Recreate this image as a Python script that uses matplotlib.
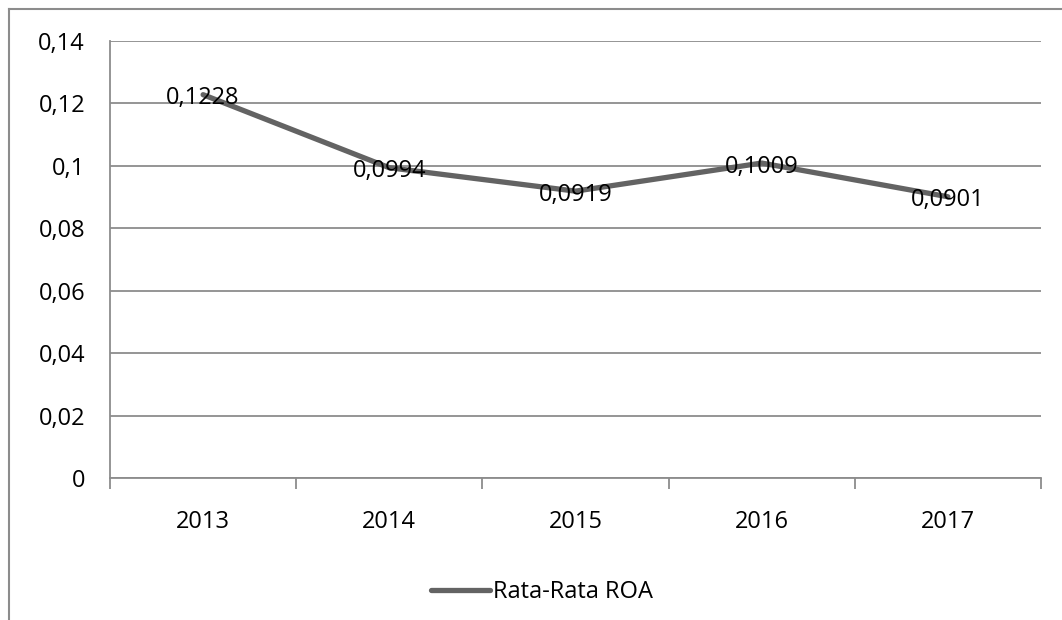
import matplotlib
matplotlib.use("Agg")
import matplotlib.pyplot as plt
from matplotlib.lines import Line2D

years = ["2013", "2014", "2015", "2016", "2017"]
roa = [0.1228, 0.0994, 0.0919, 0.1009, 0.0901]
yticks = [0, 0.02, 0.04, 0.06, 0.08, 0.10, 0.12, 0.14]
ytick_labels = ["0", "0,02", "0,04", "0,06", "0,08", "0,1", "0,12", "0,14"]
series_name = "Rata-Rata ROA"

W, H = 1062, 620
FS = 17
fig = plt.figure(figsize=(W / 100, H / 100), dpi=100)
plt.rcParams['font.family'] = ['Open Sans', 'DejaVu Sans']

# outer chart frame (only top and left visible)
fig.add_artist(Line2D([9 / W, 9 / W], [0, 1 - 9 / H], color="#8c8c8c", lw=1.5))
fig.add_artist(Line2D([9 / W, 1], [1 - 9 / H, 1 - 9 / H], color="#8c8c8c", lw=1.5))

left, right, top, bottom = 110, 1041, 41, 478
ax = fig.add_axes([left / W, 1 - bottom / H, (right - left) / W, (bottom - top) / H])
x = list(range(len(years)))
ax.set_xlim(-0.5, len(years) - 0.5)
ax.set_ylim(0, 0.14)
ax.set_yticks(yticks)
ax.set_yticklabels(ytick_labels, fontsize=FS)
ax.yaxis.grid(True, color="#8c8c8c", lw=1.3)
ax.set_axisbelow(True)
for s in ["top", "right"]:
    ax.spines[s].set_visible(False)
for s in ["left", "bottom"]:
    ax.spines[s].set_color("#8c8c8c")
    ax.spines[s].set_linewidth(1.3)
ax.tick_params(axis="y", length=0, pad=18, labelcolor="black")
ax.set_xticks(x)
ax.set_xticklabels(years, fontsize=FS)
ax.tick_params(axis="x", length=0, pad=23)
ax.set_xticks([i - 0.5 for i in range(len(years) + 1)], minor=True)
ax.tick_params(axis="x", which="minor", length=8, width=1.3, color="#8c8c8c")

line, = ax.plot(x, roa, color="#636363", lw=3.8, solid_capstyle="round", label=series_name, zorder=3)
for xi, v in zip(x, roa):
    ax.annotate(f"{v:.4f}".replace(".", ","), (xi, v), xytext=(0, -2.5), textcoords="offset points",
                ha="center", va="center", fontsize=FS, color="black", zorder=4)

fig.legend(handles=[line], labels=[series_name], loc="center", bbox_to_anchor=(542 / W, 1 - 592 / H),
           frameon=False, fontsize=FS, handlelength=2.5, handletextpad=0.1)

fig.savefig("out.png", dpi=100)
